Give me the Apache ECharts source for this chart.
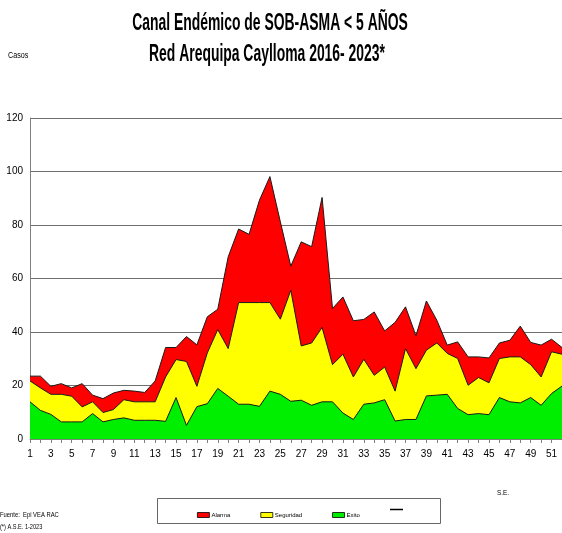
<!DOCTYPE html>
<html>
<head>
<meta charset="utf-8">
<script src="https://cdn.jsdelivr.net/npm/echarts@6/dist/echarts.min.js"></script>
<style>
html,body{margin:0;padding:0;background:#fff;}
#chart{width:562px;height:533px;}
</style>
</head>
<body>
<div id="chart"></div>
<script>
var weeks = [];
for (var i = 1; i <= 52; i++) weeks.push(String(i));

var alarma = [23.5,23.5,19.7,20.7,19.1,20.7,16.4,15.1,17.2,18.2,17.9,17.4,21.7,34.2,34.2,38.3,35.2,45.7,48.5,68.1,78.5,76.5,89.3,98.1,81.2,64.6,73.7,71.9,90.3,48.8,53.1,44.2,44.7,47.5,40.4,43.6,49.4,38.6,51.6,44.4,35.1,36.3,30.7,30.7,30.3,35.9,36.9,42.2,36.1,35.1,37.3,34.2];
var seguridad = [21.7,19.1,16.7,16.7,16.0,12.0,13.9,9.9,11.0,14.7,13.9,13.9,13.9,23.2,29.7,29.0,19.7,32.2,40.9,33.8,51.0,51.0,51.0,51.0,44.8,55.6,34.8,35.9,41.7,27.8,31.7,23.2,29.8,23.8,26.9,17.9,33.8,26.3,33.2,35.9,32.0,30.1,20.1,23.0,21.0,30.1,30.7,30.7,27.8,23.2,32.6,31.7];
var exito = [13.9,10.7,9.2,6.4,6.4,6.4,9.5,6.4,7.3,7.9,7.0,7.0,7.0,6.6,15.5,5.1,12.1,13.2,18.9,16.0,13.0,13.0,12.2,17.9,16.7,14.1,14.5,12.6,13.9,13.9,9.7,7.3,13.0,13.5,14.7,6.7,7.3,7.3,16.1,16.4,16.7,11.4,9.1,9.5,9.1,15.5,13.9,13.5,15.5,12.6,17.0,19.8];
var casos = [];
var yTicks = [0,20,40,60,80,100,120];

var FONT = '"Liberation Sans", Arial, sans-serif';
var chart = echarts.init(document.getElementById('chart'));

function areaSeries(name, data, color) {
  return {
    name: name,
    type: 'line',
    data: data,
    symbol: 'none',
    color: color,
    itemStyle: {color: color},
    lineStyle: {color: '#1a1a1a', width: 1},
    areaStyle: {color: color, opacity: 1},
    emphasis: {disabled: true},
    animation: false
  };
}

chart.setOption({
  backgroundColor: '#ffffff',
  animation: false,
  grid: {left: 30, right: -4, top: 118, bottom: 94, containLabel: false},
  xAxis: {
    type: 'category',
    data: weeks,
    boundaryGap: false,
    axisLine: {show: true, lineStyle: {color: '#808080', width: 1}},
    axisTick: {show: true, interval: 0, length: 4, lineStyle: {color: '#808080'}},
    axisLabel: {interval: 1, color: '#000', fontSize: 10, fontFamily: FONT, margin: 10},
    splitLine: {show: false}
  },
  yAxis: {
    type: 'value',
    min: yTicks[0],
    max: yTicks[yTicks.length - 1],
    interval: 20,
    axisLine: {show: true, lineStyle: {color: '#808080', width: 1}},
    axisTick: {show: false},
    axisLabel: {color: '#000', fontSize: 10, fontFamily: FONT, margin: 7},
    splitLine: {show: true, lineStyle: {color: '#707070', width: 1}}
  },
  legend: {
    left: 192,
    top: 507,
    itemWidth: 12,
    itemHeight: 5,
    itemGap: 30,
    textStyle: {fontSize: 6, color: '#000', fontFamily: FONT, padding: [0,0,0,-3]},
    selectedMode: false,
    data: [
      {name: 'Alarma', icon: 'rect', itemStyle: {color: '#ff0000', borderColor: '#000', borderWidth: 0.8}},
      {name: 'Seguridad', icon: 'rect', itemStyle: {color: '#ffff00', borderColor: '#000', borderWidth: 0.8}},
      {name: 'Exito', icon: 'rect', itemStyle: {color: '#00ee00', borderColor: '#000', borderWidth: 0.8}}
    ]
  },
  graphic: [
    {type: 'text', x: 270, y: 23, scaleX: 0.58, style: {text: 'Canal Endémico de SOB-ASMA < 5 AÑOS', x: 0, y: 0, textAlign: 'center', textVerticalAlign: 'middle', font: 'bold 24px ' + FONT, fill: '#000'}},
    {type: 'text', x: 267, y: 54, scaleX: 0.58, style: {text: 'Red Arequipa Caylloma 2016- 2023*', x: 0, y: 0, textAlign: 'center', textVerticalAlign: 'middle', font: 'bold 24px ' + FONT, fill: '#000'}},
    {type: 'text', x: 8, y: 56, scaleX: 0.8, style: {text: 'Casos', x: 0, y: 0, textVerticalAlign: 'middle', font: '9px ' + FONT, fill: '#000'}},
    {type: 'rect', shape: {x: 157.5, y: 498.5, width: 283, height: 25}, style: {fill: 'none', stroke: '#666', lineWidth: 1}},
    {type: 'line', shape: {x1: 390, y1: 509.5, x2: 403, y2: 509.5}, style: {stroke: '#000', lineWidth: 1.5}},
    {type: 'text', x: 497, y: 493, scaleX: 0.8, style: {text: 'S.E.', x: 0, y: 0, textVerticalAlign: 'middle', font: '8px ' + FONT, fill: '#000'}},
    {type: 'text', x: 0, y: 515, scaleX: 0.73, style: {text: 'Fuente:  Epi VEA RAC', x: 0, y: 0, textVerticalAlign: 'middle', font: '8px ' + FONT, fill: '#000'}},
    {type: 'text', x: 0, y: 527, scaleX: 0.8, style: {text: '(*) A.S.E. 1-2023', x: 0, y: 0, textVerticalAlign: 'middle', font: '7px ' + FONT, fill: '#000'}}
  ],
  series: [
    areaSeries('Alarma', alarma, '#ff0000'),
    areaSeries('Seguridad', seguridad, '#ffff00'),
    areaSeries('Exito', exito, '#00ee00'),
    {name: 'Casos 2023', type: 'line', data: casos, symbol: 'none', color: '#000', lineStyle: {color: '#000', width: 1.5}, animation: false}
  ]
});
</script>
</body>
</html>
